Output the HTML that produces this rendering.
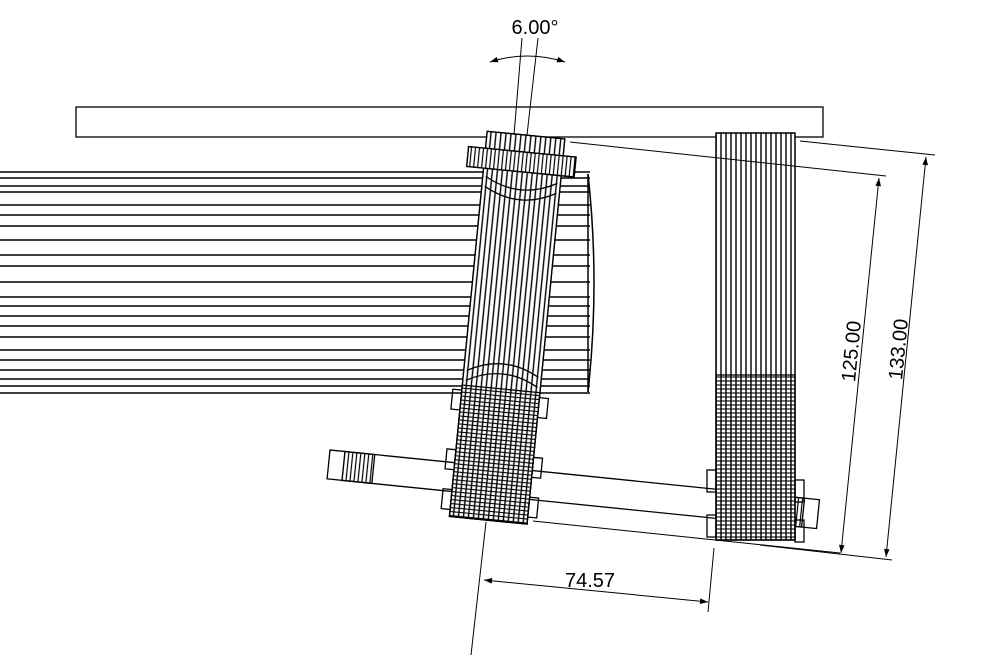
<!DOCTYPE html>
<html><head><meta charset="utf-8"><style>
html,body{margin:0;padding:0;background:#fff}
svg{display:block}
text{font-family:"Liberation Sans",sans-serif;fill:#000}
</style></head><body>
<svg width="1000" height="667" viewBox="0 0 1000 667" xmlns="http://www.w3.org/2000/svg">
<defs>
<pattern id="vl" width="5" height="10" patternUnits="userSpaceOnUse"><line x1="1" y1="0" x2="1" y2="10" stroke="#000" stroke-width="1.4"/></pattern>
<pattern id="vl2" width="4" height="10" patternUnits="userSpaceOnUse"><line x1="1" y1="0" x2="1" y2="10" stroke="#000" stroke-width="1.2"/></pattern>
<pattern id="hl" width="10" height="4" patternUnits="userSpaceOnUse"><line x1="0" y1="1" x2="10" y2="1" stroke="#000" stroke-width="1.1"/></pattern>
<marker id="ar" viewBox="0 0 10 10" refX="10" refY="5" markerWidth="10" markerHeight="8" orient="auto-start-reverse" markerUnits="userSpaceOnUse"><path d="M0,1.5 L10,5 L0,8.5z" fill="#000"/></marker>
</defs>
<g fill="none" stroke="#000" stroke-width="1.3">
<rect x="76" y="107" width="747" height="30" fill="#fff"/>
<g stroke-width="1.5">
<line x1="0" y1="172" x2="590" y2="172"/><line x1="0" y1="178" x2="590" y2="178"/>
<line x1="0" y1="186" x2="590" y2="186"/><line x1="0" y1="192" x2="590" y2="192"/>
<line x1="0" y1="205" x2="590" y2="205"/><line x1="0" y1="215" x2="590" y2="215"/>
<line x1="0" y1="226" x2="590" y2="226"/><line x1="0" y1="240" x2="590" y2="240"/>
<line x1="0" y1="255" x2="590" y2="255"/><line x1="0" y1="266" x2="590" y2="266"/>
<line x1="0" y1="282" x2="590" y2="282"/><line x1="0" y1="297" x2="590" y2="297"/>
<line x1="0" y1="306" x2="590" y2="306"/><line x1="0" y1="316" x2="590" y2="316"/>
<line x1="0" y1="326" x2="590" y2="326"/><line x1="0" y1="337" x2="590" y2="337"/>
<line x1="0" y1="350" x2="590" y2="350"/><line x1="0" y1="360" x2="590" y2="360"/>
<line x1="0" y1="370" x2="590" y2="370"/><line x1="0" y1="379" x2="590" y2="379"/>
<line x1="0" y1="386" x2="590" y2="386"/><line x1="0" y1="393" x2="590" y2="393"/>
<line x1="588" y1="174" x2="588" y2="392"/>
<path d="M588,174 Q600,283 588,392"/>
</g>
<g transform="rotate(5.8 330 450)">
<rect x="330" y="450" width="492" height="29" fill="#fff"/>
<rect x="345" y="450" width="30" height="29" fill="url(#vl2)"/>
<rect x="777" y="450" width="30" height="29" fill="url(#vl2)"/>
</g>
<g transform="rotate(5.6 525 135)">
<rect x="487" y="135" width="78" height="387" fill="#fff"/>
<rect x="487" y="135" width="78" height="387" fill="url(#vl)"/>
<rect x="487" y="390" width="78" height="132" fill="url(#hl)"/>
<rect x="470" y="152" width="108" height="20" fill="#fff"/>
<rect x="470" y="152" width="108" height="20" fill="url(#vl2)"/>
<path d="M490,180 Q526,200 562,180"/><path d="M490,190 Q526,210 562,190"/>
<path d="M490,375 Q526,355 562,375"/><path d="M490,385 Q526,365 562,385"/>
<rect x="478" y="395" width="9" height="20"/><rect x="565" y="395" width="9" height="20"/>
<rect x="478" y="455" width="9" height="20"/><rect x="565" y="455" width="9" height="20"/>
<rect x="478" y="495" width="9" height="20"/><rect x="565" y="495" width="9" height="20"/>
</g>
<rect x="716" y="133" width="79" height="407" fill="#fff"/>
<rect x="716" y="133" width="79" height="407" fill="url(#vl)"/>
<rect x="716" y="375" width="79" height="165" fill="url(#hl)"/>
<rect x="707" y="470" width="9" height="22"/><rect x="795" y="480" width="9" height="22"/>
<rect x="707" y="515" width="9" height="22"/><rect x="795" y="520" width="9" height="22"/>
<line x1="522" y1="38" x2="514" y2="135" stroke-width="1"/>
<line x1="538" y1="38" x2="527" y2="135" stroke-width="1"/>
<path d="M490,62 Q527,50 565,62" stroke-width="1" marker-start="url(#ar)" marker-end="url(#ar)"/>
<g stroke-width="1">
<line x1="570" y1="142" x2="886" y2="176"/>
<line x1="800" y1="141" x2="935" y2="155"/>
<line x1="533" y1="521" x2="840" y2="553"/>
<line x1="760" y1="545" x2="892" y2="560"/>
<line x1="486" y1="522" x2="471" y2="655"/>
<line x1="714" y1="548" x2="708" y2="612"/>
<line x1="879" y1="178" x2="841" y2="553" marker-start="url(#ar)" marker-end="url(#ar)"/>
<line x1="926" y1="157" x2="886" y2="557" marker-start="url(#ar)" marker-end="url(#ar)"/>
<line x1="484" y1="580" x2="708" y2="602" marker-start="url(#ar)" marker-end="url(#ar)"/>
</g>
</g>
<text x="535" y="34" font-size="20" text-anchor="middle">6.00°</text>
<text x="590" y="587" font-size="20" text-anchor="middle">74.57</text>
<text font-size="20" text-anchor="middle" transform="translate(858,352) rotate(-84.3)">125.00</text>
<text font-size="20" text-anchor="middle" transform="translate(905,350) rotate(-84.3)">133.00</text>
</svg>
</body></html>
